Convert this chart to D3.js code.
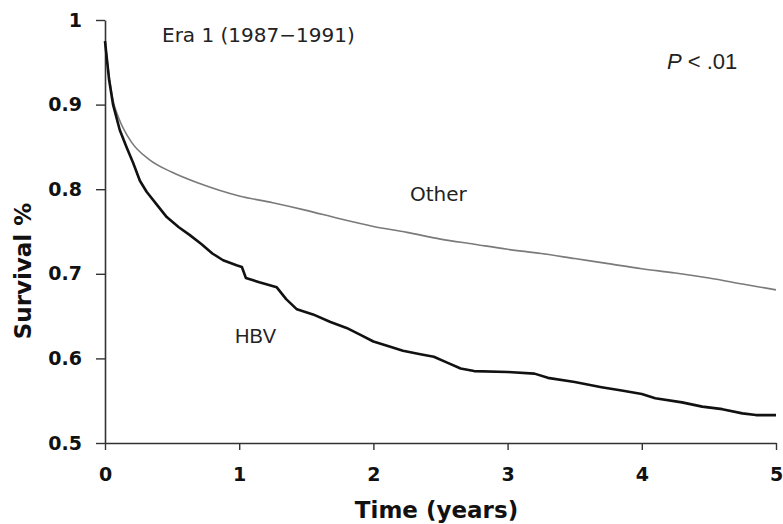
<!DOCTYPE html>
<html>
<head>
<meta charset="utf-8">
<script src="https://cdn.jsdelivr.net/npm/d3@7"></script>
<style>
  body { margin: 0; background: #fff; }
  svg { display: block; }
</style>
</head>
<body>
<div id="chart"></div>
<script>
// time in years, survival fraction
const hbvTime = [0, 0.03, 0.06, 0.11, 0.16, 0.21, 0.26, 0.31, 0.38, 0.46, 0.55, 0.63, 0.72, 0.8, 0.88, 0.98, 1.02,
  1.05, 1.15, 1.28, 1.35, 1.43, 1.55, 1.68, 1.8, 1.9, 2.0, 2.12, 2.22, 2.35, 2.45, 2.55, 2.65, 2.75,
  3.0, 3.2, 3.3, 3.5, 3.7, 3.85, 4.0, 4.1, 4.3, 4.45, 4.6, 4.75, 4.85, 5.0];
const hbvSurv = [0.975, 0.93, 0.9, 0.87, 0.85, 0.831, 0.81, 0.797, 0.783, 0.767, 0.755, 0.746, 0.735, 0.724, 0.716, 0.71, 0.708,
  0.695, 0.69, 0.684, 0.67, 0.658, 0.652, 0.643, 0.636, 0.628, 0.62, 0.614, 0.609, 0.605, 0.602, 0.595, 0.588, 0.585,
  0.584, 0.582, 0.577, 0.572, 0.566, 0.562, 0.558, 0.553, 0.548, 0.543, 0.54, 0.535, 0.533, 0.533];

const otherTime = [0, 0.03, 0.06, 0.1, 0.2, 0.33, 0.5, 0.7, 1.0, 1.25, 1.5, 1.75, 2.0, 2.25, 2.5, 2.75,
  3.0, 3.25, 3.5, 3.75, 4.0, 4.25, 4.5, 4.75, 5.0];
const otherSurv = [0.975, 0.935, 0.905, 0.885, 0.855, 0.835, 0.82, 0.807, 0.792, 0.784, 0.775, 0.765, 0.756, 0.749,
  0.741, 0.735, 0.729, 0.724, 0.718, 0.712, 0.706, 0.701, 0.695, 0.688, 0.681];

const xTicks = [0, 1, 2, 3, 4, 5];
const yTicks = [0.5, 0.6, 0.7, 0.8, 0.9, 1];

const W = 783, H = 524;
const margin = { top: 20, right: 7, bottom: 81, left: 105 };
const width = W - margin.left - margin.right,
  height = H - margin.top - margin.bottom;

const svg = d3.select("#chart").append("svg")
  .attr("width", W)
  .attr("height", H);

const g = svg.append("g")
  .attr("transform", "translate(" + margin.left + "," + margin.top + ")");

const x = d3.scaleLinear().domain([0, 5]).range([0, width]);
const y = d3.scaleLinear().domain([0.5, 1]).range([height, 0]);

// axes
const yAxis = d3.axisLeft(y).tickValues(yTicks).tickSize(9).tickSizeOuter(0).tickPadding(14)
  .tickFormat(d => d === 1 ? "1" : d3.format(".1f")(d));
const xAxis = d3.axisBottom(x).tickValues(xTicks).tickSize(7).tickSizeOuter(0).tickPadding(18)
  .tickFormat(d3.format("d"));

function styleAxis(sel) {
  sel.select(".domain").attr("stroke", "#333").attr("stroke-width", 1.6);
  sel.selectAll(".tick line").attr("stroke", "#333").attr("stroke-width", 1.4);
  sel.selectAll(".tick text")
    .attr("fill", "#111")
    .style("font-family", "'DejaVu Sans', Verdana, sans-serif")
    .style("font-weight", "bold")
    .style("font-size", "19px");
}

g.append("g").call(yAxis).call(styleAxis);
g.append("g").attr("transform", "translate(0," + height + ")").call(xAxis).call(styleAxis);

// curves
const other = otherTime.map((t, i) => [t, otherSurv[i]]);
const hbv = hbvTime.map((t, i) => [t, hbvSurv[i]]);

const smooth = d3.line().x(d => x(d[0])).y(d => y(d[1])).curve(d3.curveMonotoneX);
const jagged = d3.line().x(d => x(d[0])).y(d => y(d[1]));

g.append("path")
  .datum(other)
  .attr("d", smooth)
  .attr("fill", "none")
  .attr("stroke", "#7a7a7a")
  .attr("stroke-width", 1.6);

g.append("path")
  .datum(hbv)
  .attr("d", jagged)
  .attr("fill", "none")
  .attr("stroke", "#111")
  .attr("stroke-width", 2.6)
  .attr("stroke-linejoin", "round");

// axis titles
svg.append("text")
  .attr("x", margin.left + width / 2 - 4)
  .attr("y", 518)
  .attr("text-anchor", "middle")
  .style("font-family", "'DejaVu Sans', Verdana, sans-serif")
  .style("font-weight", "bold")
  .style("font-size", "23px")
  .attr("fill", "#111")
  .text("Time (years)");

svg.append("text")
  .attr("transform", "translate(31,271) rotate(-90)")
  .attr("text-anchor", "middle")
  .style("font-family", "'DejaVu Sans', Verdana, sans-serif")
  .style("font-weight", "bold")
  .style("font-size", "23px")
  .attr("fill", "#111")
  .text("Survival %");

// annotations
svg.append("text")
  .attr("x", 162).attr("y", 42)
  .style("font-family", "'DejaVu Sans', Verdana, sans-serif")
  .style("font-size", "20px")
  .attr("fill", "#222")
  .text("Era 1 (1987\u22121991)");

svg.append("text")
  .attr("x", 410).attr("y", 201)
  .style("font-family", "'DejaVu Sans', Verdana, sans-serif")
  .style("font-size", "20px")
  .attr("fill", "#222")
  .text("Other");

svg.append("text")
  .attr("x", 235).attr("y", 343)
  .style("font-family", "'Liberation Sans', Arial, sans-serif")
  .style("font-size", "20px")
  .attr("fill", "#222")
  .text("HBV");

const pText = svg.append("text")
  .attr("x", 667).attr("y", 69)
  .style("font-family", "'Liberation Sans', Arial, sans-serif")
  .style("font-size", "22px")
  .attr("fill", "#222");
pText.append("tspan").style("font-style", "italic").text("P");
pText.append("tspan").text(" < .01");
</script>
</body>
</html>
